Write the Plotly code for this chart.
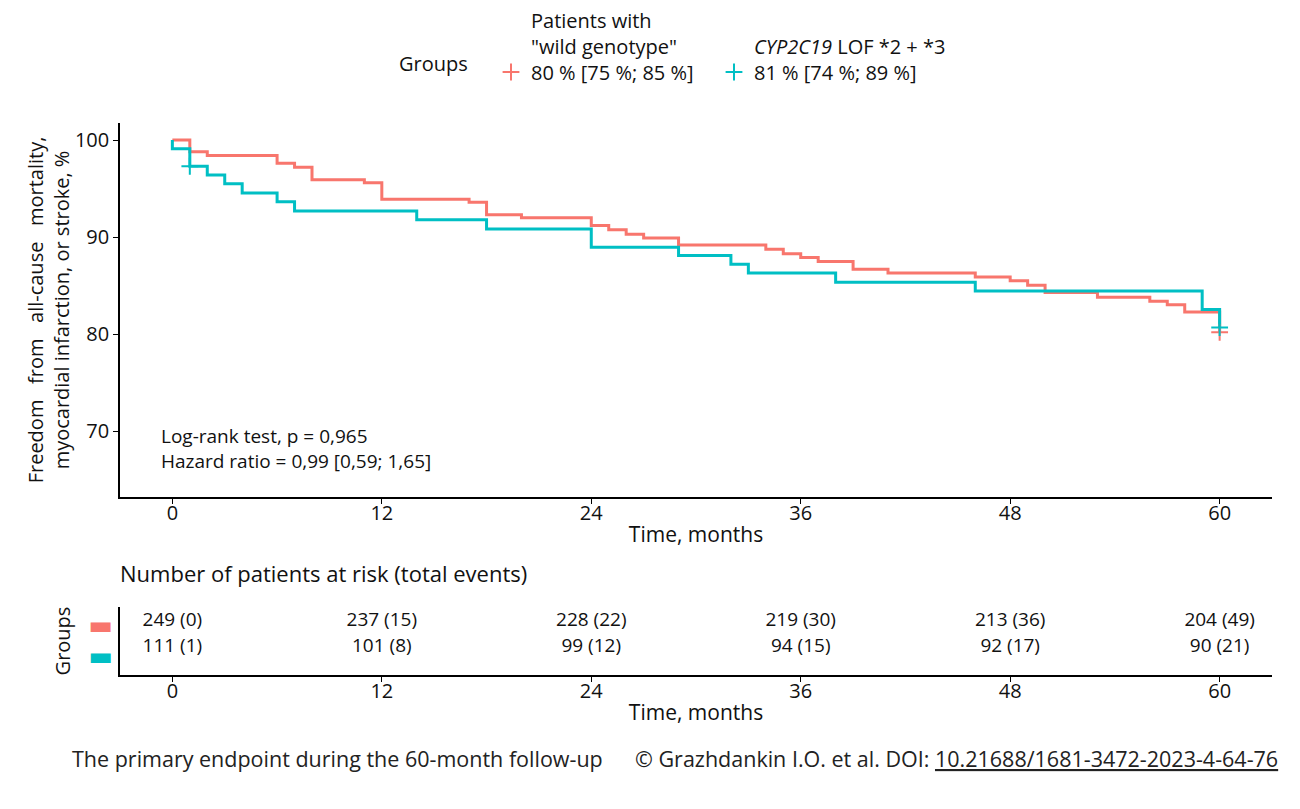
import plotly.graph_objects as go

# Kaplan-Meier steps (time in months, survival in %)
wild_t = [0, 1, 2, 6, 7, 8, 11, 12, 17, 18, 20, 24, 25, 26, 27, 29, 34, 35, 36, 37,
          39, 41, 46, 48, 49, 50, 53, 56, 57, 58, 60]
wild_s = [100, 98.8, 98.4, 97.6, 97.2, 95.9, 95.6, 93.9, 93.6, 92.3, 92.0, 91.2, 90.75,
          90.3, 89.9, 89.2, 88.75, 88.3, 87.9, 87.5, 86.7, 86.3, 85.9, 85.5, 85.05, 84.3,
          83.8, 83.4, 83.05, 82.3, 80.2]

lof_t = [0, 0, 1, 2, 3, 4, 6, 7, 14, 18, 24, 29, 32, 33, 38, 46, 59, 60]
lof_s = [100, 99.1, 97.3, 96.4, 95.5, 94.55, 93.65, 92.7, 91.8, 90.85, 88.95, 88.1, 87.2,
         86.3, 85.35, 84.45, 82.55, 80.7]

# censoring marks
wild_cens_t = [60]
wild_cens_s = [80.2]
lof_cens_t = [1, 60]
lof_cens_s = [97.3, 80.7]

# risk table
risk_times = [0, 12, 24, 36, 48, 60]
wild_risk = [249, 237, 228, 219, 213, 204]
wild_events = [0, 15, 22, 30, 36, 49]
lof_risk = [111, 101, 99, 94, 92, 90]
lof_events = [1, 8, 12, 15, 17, 21]

x_ticks = [0, 12, 24, 36, 48, 60]
y_ticks = [70, 80, 90, 100]

RED = "#F8766D"
TEAL = "#00BFC4"
FONT = "Open Sans"
INK = "#111111"

# the page body has an 8px margin, so the figure is a bit smaller and
# positions below are given in window pixels
OFF = 8
W, H = 1300 - 2 * OFF, 809 - 2 * OFF


def px_x(p):
    return (p - OFF) / W


def px_y(p):
    return 1 - (p - OFF) / H


fig = go.Figure()

fig.add_trace(go.Scatter(x=wild_t, y=wild_s, mode="lines", line=dict(color=RED, width=3, shape="hv"),
                         showlegend=False, hoverinfo="skip"))
fig.add_trace(go.Scatter(x=lof_t, y=lof_s, mode="lines", line=dict(color=TEAL, width=3, shape="hv"),
                         showlegend=False, hoverinfo="skip"))

fig.add_trace(go.Scatter(x=wild_cens_t, y=wild_cens_s, mode="markers",
                         marker=dict(symbol="cross-thin", size=12, line=dict(color=RED, width=2)),
                         name='Patients with<br>"wild genotype"<br>80 % [75 %; 85 %]',
                         legendwidth=178))
fig.add_trace(go.Scatter(x=lof_cens_t, y=lof_cens_s, mode="markers",
                         marker=dict(symbol="cross-thin", size=12, line=dict(color=TEAL, width=2)),
                         name="&nbsp;<br><i>CYP2C19</i> LOF *2 + *3<br>81 % [74 %; 89 %]"))

# risk table rows
fig.add_trace(go.Scatter(x=risk_times, y=[2] * len(risk_times), mode="text",
                         text=[f"{n} ({e})" for n, e in zip(wild_risk, wild_events)],
                         textfont=dict(family=FONT, size=19, color=INK),
                         xaxis="x2", yaxis="y2", showlegend=False, hoverinfo="skip"))
fig.add_trace(go.Scatter(x=risk_times, y=[1] * len(risk_times), mode="text",
                         text=[f"{n} ({e})" for n, e in zip(lof_risk, lof_events)],
                         textfont=dict(family=FONT, size=19, color=INK),
                         xaxis="x2", yaxis="y2", showlegend=False, hoverinfo="skip"))

axis_common = dict(showline=True, linecolor="black", linewidth=1.6, ticks="outside",
                   ticklen=5, tickcolor="black", tickwidth=1.2, showgrid=False,
                   zeroline=False, tickfont=dict(family=FONT, size=20, color=INK),
                   automargin=False)

x_dom = [px_x(120), px_x(1272)]

fig.update_layout(
    width=W, height=H,
    margin=dict(l=0, r=0, t=0, b=0, autoexpand=False),
    paper_bgcolor="white", plot_bgcolor="white",
    font=dict(family=FONT, color=INK),
    xaxis=dict(domain=x_dom, range=[-3, 63], tickvals=x_ticks, anchor="y",
               ticklabelstandoff=-8,
               title=dict(text="Time, months", font=dict(size=21), standoff=3),
               **axis_common),
    yaxis=dict(domain=[px_y(497), px_y(123)], range=[63.25, 101.75], tickvals=y_ticks,
               anchor="x",
               title=dict(text="Freedom\u00a0\u00a0\u00a0from\u00a0\u00a0\u00a0all-cause"
                               "\u00a0\u00a0\u00a0mortality,<br>myocardial infarction, or stroke, %",
                          font=dict(size=20), standoff=0),
               **axis_common),
    xaxis2=dict(domain=x_dom, range=[-3, 63], tickvals=x_ticks, anchor="y2",
                ticklabelstandoff=-8,
                title=dict(text="Time, months", font=dict(size=21), standoff=3),
                **axis_common),
    # colour keys sit slightly below the text rows, as in the original
    yaxis2=dict(domain=[px_y(675), px_y(607)], range=[-0.027, 2.532],
                tickvals=[0.696, 1.875],
                ticktext=[f"<span style='color:{TEAL}'>\u25ac</span>",
                          f"<span style='color:{RED}'>\u25ac</span>"],
                anchor="x2", showline=True, linecolor="black", linewidth=1.6,
                ticks="", showgrid=False, zeroline=False,
                tickfont=dict(family="DejaVu Sans", size=26, color=INK),
                title=dict(text="Groups", font=dict(size=20), standoff=12),
                automargin=False),
    legend=dict(orientation="h", x=px_x(491), xanchor="left", y=px_y(0.5), yanchor="top",
                font=dict(family=FONT, size=20, color=INK), valign="bottom",
                itemwidth=30, bgcolor="rgba(0,0,0,0)"),
)

fig.add_annotation(x=px_x(397), y=px_y(64), xref="paper", yref="paper", xanchor="left",
                   yanchor="middle", showarrow=False, text="Groups",
                   font=dict(family=FONT, size=20, color=INK))
fig.add_annotation(x=-0.75, y=68.2, xref="x", yref="y", xanchor="left", yanchor="middle",
                   align="left", showarrow=False,
                   text="Log-rank test, p = 0,965<br>Hazard ratio = 0,99 [0,59; 1,65]",
                   font=dict(family=FONT, size=19, color=INK))
fig.add_annotation(x=px_x(118), y=px_y(573), xref="paper", yref="paper", xanchor="left",
                   yanchor="middle", showarrow=False,
                   text="Number of patients at risk (total events)",
                   font=dict(family=FONT, size=22, color=INK))
fig.add_annotation(x=px_x(70), y=px_y(758), xref="paper", yref="paper", xanchor="left",
                   yanchor="middle", showarrow=False,
                   text="The primary endpoint during the 60-month follow-up",
                   font=dict(family=FONT, size=21.5, color="#222222"))
fig.add_annotation(x=px_x(1280), y=px_y(758), xref="paper", yref="paper", xanchor="right",
                   yanchor="middle", showarrow=False,
                   text="© Grazhdankin I.O. et al. DOI: <u>10.21688/1681-3472-2023-4-64-76</u>",
                   font=dict(family=FONT, size=21.5, color="#222222"))

fig.write_html("out.html")
